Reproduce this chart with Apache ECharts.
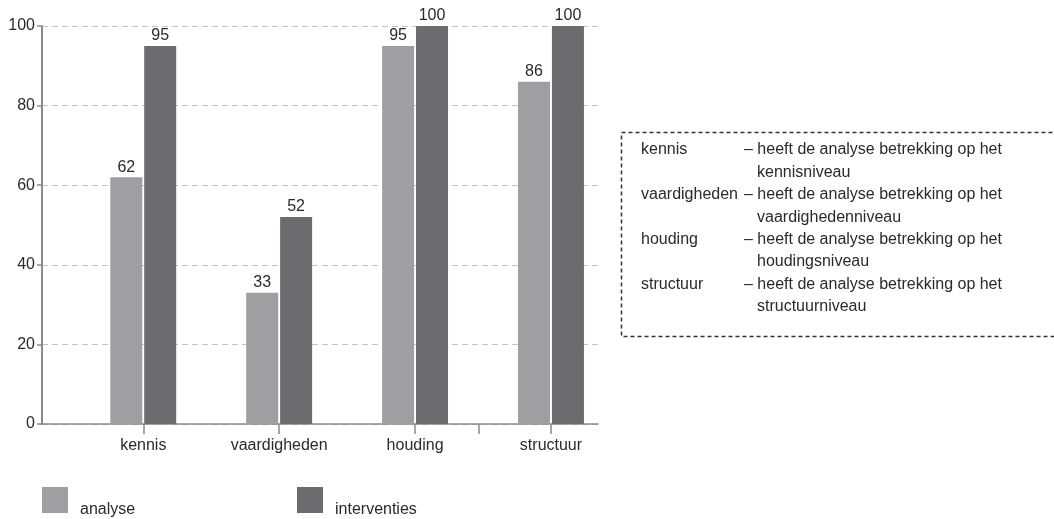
<!DOCTYPE html>
<html>
<head>
<meta charset="utf-8">
<script src="https://cdn.jsdelivr.net/npm/echarts@6/dist/echarts.min.js"></script>
<style>
  html, body { margin: 0; padding: 0; background: #ffffff; }
  #chart { width: 1054px; height: 519px; }
</style>
</head>
<body>
<div id="chart"></div>
<script>
// Categories and scores per level
const categories = ['kennis', 'vaardigheden', 'houding', 'structuur'];
const analyse = [62, 33, 95, 86];
const interventies = [95, 52, 100, 100];

// Explanation box rows: term, first line, continuation line
const noteTerms = ['kennis', 'vaardigheden', 'houding', 'structuur'];
const noteLine1 = ['– heeft de analyse betrekking op het', '– heeft de analyse betrekking op het',
                   '– heeft de analyse betrekking op het', '– heeft de analyse betrekking op het'];
const noteLine2 = ['kennisniveau', 'vaardighedenniveau', 'houdingsniveau', 'structuurniveau'];

const FONT = '"Liberation Sans", Arial, sans-serif';
const LIGHT = '#9e9fa3';
const DARK = '#6b6c70';
const TEXT = '#2a2a2a';
const AXIS = '#8a8a8a';

const toPoints = arr => arr.map((v, i) => [i, v]);

const chart = echarts.init(document.getElementById('chart'), null, { renderer: 'canvas' });

// Explanation box: dashed frame and two-column text
const noteMid = 150;
const lineH = 22.4;
const noteFont = '16px ' + FONT;
const noteChildren = [{
  type: 'rect',
  shape: { x: 621.5, y: 132.5, width: 440, height: 204 },
  style: { fill: 'none', stroke: '#333', lineWidth: 1.5, lineDash: [4, 3] }
}];
noteTerms.forEach((t, i) => {
  const y = noteMid + i * 2 * lineH;
  const st = { font: noteFont, fill: TEXT, verticalAlign: 'middle' };
  noteChildren.push({ type: 'text', style: Object.assign({ x: 641, y: y, text: t }, st) });
  noteChildren.push({ type: 'text', style: Object.assign({ x: 744, y: y, text: noteLine1[i] }, st) });
  noteChildren.push({ type: 'text', style: Object.assign({ x: 757, y: y + lineH, text: noteLine2[i] }, st) });
});

const legendText = {
  fontSize: 16, color: TEXT,
  rich: { t: { fontSize: 16, color: TEXT, padding: [20, 0, 0, 7] } }
};

chart.setOption({
  animation: false,
  textStyle: { fontFamily: FONT },
  grid: { left: 42, right: 456, top: 26, bottom: 95, containLabel: false },
  legend: [
    {
      data: ['analyse'], left: 42, top: 487, padding: 0, icon: 'rect', itemWidth: 26, itemHeight: 26,
      formatter: '{t|{name}}', textStyle: legendText
    },
    {
      data: ['interventies'], left: 297, top: 487, padding: 0, icon: 'rect', itemWidth: 26, itemHeight: 26,
      formatter: '{t|{name}}', textStyle: legendText
    }
  ],
  xAxis: {
    type: 'value',
    min: -0.745,
    max: 3.346,
    axisLine: { show: true, onZero: false, lineStyle: { color: AXIS, width: 1.5 } },
    axisTick: { show: true, length: 10, customValues: [0, 1, 2, 2.47, 3], lineStyle: { color: AXIS, width: 1.5 } },
    axisLabel: {
      customValues: [0, 1, 2, 3],
      formatter: v => categories[Math.round(v)],
      fontSize: 16, color: TEXT, margin: 14
    },
    splitLine: { show: false }
  },
  yAxis: {
    type: 'value',
    min: 0,
    max: 100,
    interval: 20,
    axisLine: { show: true, onZero: false, lineStyle: { color: AXIS, width: 2 } },
    axisTick: { show: true, length: 5, lineStyle: { color: AXIS, width: 1.5 } },
    axisLabel: { fontSize: 16, color: TEXT, margin: 7 },
    splitLine: { show: true, lineStyle: { color: '#c4c4c4', type: [6, 4], width: 1 } }
  },
  series: [
    {
      name: 'analyse', type: 'bar', data: toPoints(analyse),
      barWidth: 32, barGap: '6%',
      itemStyle: { color: LIGHT },
      label: { show: true, position: 'top', distance: 2, fontSize: 16, color: TEXT }
    },
    {
      name: 'interventies', type: 'bar', data: toPoints(interventies),
      barWidth: 32, barGap: '6%',
      itemStyle: { color: DARK },
      label: { show: true, position: 'top', distance: 2, fontSize: 16, color: TEXT }
    }
  ],
  graphic: [{ type: 'group', children: noteChildren }]
});
</script>
</body>
</html>
